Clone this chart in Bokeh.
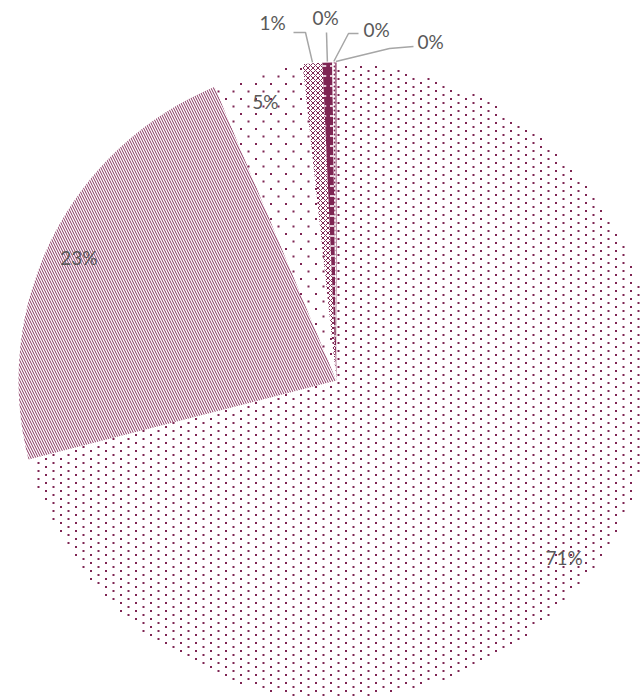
import math
import numpy as np
from bokeh.plotting import figure
from bokeh.models import Range1d
from bokeh.embed import file_html
from bokeh.resources import INLINE
from bokeh.core.properties import value

# ---- data ----
categories = ["S1", "S2", "S3", "S4", "S5", "S6", "S7"]
shares = [71.0, 22.75, 4.55, 1.0, 0.49, 0.15, 0.06]
labels = [f"{round(s)}%" for s in shares]

# ---- styles / layout ----
DARK = "#7E2553"
fills = ["white", "white", "white", "white", DARK, "white", DARK]
# "lattice:dx:dy" = staggered small-dot texture drawn as a dot lattice clipped to the slice
hatches = ["lattice:15:4", "left_diagonal_line", "lattice:15:7.5", "diagonal_cross",
           "horizontal_dash", "dot", " "]
hcolors = [DARK, DARK, DARK, DARK, "white", DARK, DARK]
hscales = [1.0, 5.0, 1.0, 5.0, 10.0, 4.0, 1.0]
hweights = [1.0, 0.95, 1.0, 1.0, 1.5, 1.0, 1.0]

R = 318
LABEL_R = 288
W, H = 642, 698
CX, CY = 336, 380  # pie centre inside the figure (px from top-left)
# small nudges of inside labels (px, x right / y up), as Excel's best-fit placement does
label_nudge = [(0, 0), (0, -6), (0, 0)]

p = figure(width=W, height=H, x_range=Range1d(-CX, W - CX), y_range=Range1d(-(H - CY), CY),
           output_backend="svg", toolbar_location=None, min_border=0,
           x_axis_type=None, y_axis_type=None, outline_line_color=None)
p.grid.visible = False

total = sum(shares)
cum = 0.0
mids = []
bounds = []
for i, s in enumerate(shares):
    f0 = cum / total
    cum += s
    f1 = cum / total
    bounds.append((f0, f1))
    a0 = math.pi / 2 - 2 * math.pi * f0
    a1 = math.pi / 2 - 2 * math.pi * f1
    mids.append((a0 + a1) / 2)
    kw = {}
    if hatches[i].strip() and not hatches[i].startswith("lattice"):
        kw = dict(hatch_pattern=hatches[i], hatch_color=hcolors[i],
                  hatch_scale=hscales[i], hatch_weight=hweights[i])
    p.wedge(x=0, y=0, radius=R, start_angle=a0, end_angle=a1, direction="clock",
            fill_color=fills[i], line_color=None, **kw)

# staggered dot textures, clipped to their slices
for i, h in enumerate(hatches):
    if not h.startswith("lattice"):
        continue
    _, dx, dy = h.split(":")
    dx, dy = float(dx), float(dy)
    ys = np.arange(-(H - CY), CY + dy, dy)
    px, py = [], []
    for j, yy in enumerate(ys):
        off = 0.0 if j % 2 == 0 else dx / 2
        xs = np.arange(-CX + off, W - CX + dx, dx)
        px.append(xs)
        py.append(np.full_like(xs, yy))
    px = np.concatenate(px)
    py = np.concatenate(py)
    r = np.hypot(px, py)
    frac = (np.arctan2(px, py) % (2 * np.pi)) / (2 * np.pi)
    f0, f1 = bounds[i]
    m = (r < R - 1) & (frac >= f0) & (frac < f1)
    p.scatter(x=px[m] + 0.5, y=py[m] - 0.5, marker="square", size=2,
              fill_color=hcolors[i], line_color=None)

font = value("Lato")
# inside labels for the big slices
inside = [0, 1, 2]
p.text(x=[LABEL_R * math.cos(mids[i]) + label_nudge[k][0] for k, i in enumerate(inside)],
       y=[LABEL_R * math.sin(mids[i]) + label_nudge[k][1] for k, i in enumerate(inside)],
       text=[labels[i] for i in inside], text_font=font, text_font_size="19px",
       text_color="#595959", text_align="center", text_baseline="middle")

# outside labels for the tiny slices, with leader lines
outside = [3, 4, 5, 6]
out_pos = [(-64, 358), (-11, 363), (40, 351), (94, 339)]
elbows = [[(-43, 348), (-31, 348)], [(-10, 348)], [(22, 347), (12, 347)], [(77, 334), (53, 332)]]
for k, i in enumerate(outside):
    ex, ey = (R + 1) * math.cos(mids[i]), (R + 1) * math.sin(mids[i])
    pts = elbows[k] + [(ex, ey)]
    p.line(x=[q[0] for q in pts], y=[q[1] for q in pts], line_color="#A6A6A6", line_width=1.5)
p.text(x=[q[0] for q in out_pos], y=[q[1] for q in out_pos],
       text=[labels[i] for i in outside], text_font=font, text_font_size="19px",
       text_color="#595959", text_align="center", text_baseline="middle")

open("out.html", "w").write(file_html(p, INLINE))
